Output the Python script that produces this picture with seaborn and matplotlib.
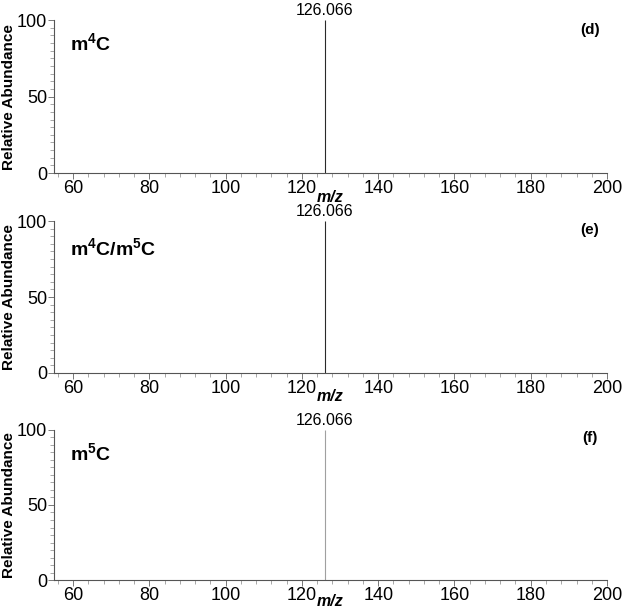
import matplotlib
matplotlib.use("Agg")
import matplotlib.pyplot as plt
import seaborn as sns
import pandas as pd
from matplotlib.ticker import MultipleLocator

# ---- data ----
panel_names = ["m4C", "m4C/m5C", "m5C"]
panel_titles = [r"$\mathbf{m^{4}C}$", r"$\mathbf{m^{4}C/m^{5}C}$", r"$\mathbf{m^{5}C}$"]
panel_tags = ["(d)", "(e)", "(f)"]
peak_mz = [126.066, 126.066, 126.066]
peak_intensity = [100, 100, 100]
peak_labels = ["126.066", "126.066", "126.066"]
x_ticks = [60, 80, 100, 120, 140, 160, 180, 200]
y_ticks = [0, 50, 100]

sns.set_style("ticks")
plt.rcParams["font.family"] = ["Liberation Sans", "DejaVu Sans"]
plt.rcParams["mathtext.fontset"] = "custom"
plt.rcParams["mathtext.rm"] = "Liberation Sans"
plt.rcParams["mathtext.bf"] = "Liberation Sans:bold"
plt.rcParams["mathtext.it"] = "Liberation Sans:italic"
plt.rcParams["text.color"] = "black"
plt.rcParams["axes.labelcolor"] = "black"
plt.rcParams["xtick.labelcolor"] = "black"
plt.rcParams["ytick.labelcolor"] = "black"

fig = plt.figure(figsize=(6.26, 6.16), dpi=100)
left, width = 0.0863, 0.8834
boxes = [(0.719, 0.2484), (0.3945, 0.2467), (0.0584, 0.2436)]
line_colors = ["#2a2a2a", "#2a2a2a", "#a0a0a0"]
title_y = [0.85, 0.82, 0.847]
tag_y = [0.935, 0.94, 0.947]
xlabel_y = [-0.11, -0.105, -0.09]

for i, (b, h) in enumerate(boxes):
    ax = fig.add_axes([left, b, width, h])
    df = pd.DataFrame({"mz": [peak_mz[i]], "intensity": [peak_intensity[i]]})
    ax.vlines(df["mz"], 0, df["intensity"], color=line_colors[i], linewidth=0.8)
    sns.despine(ax=ax)
    ax.set_xlim(55, 200)
    ax.set_ylim(0, 100)
    ax.set_xticks(x_ticks)
    ax.set_yticks(y_ticks)
    ax.xaxis.set_minor_locator(MultipleLocator(4))
    ax.yaxis.set_minor_locator(MultipleLocator(5))
    for sp in ["left", "bottom"]:
        ax.spines[sp].set_color("#555555")
        ax.spines[sp].set_linewidth(0.8)
    ax.tick_params(which="major", direction="out", length=4, width=0.7,
                   color="#777777", labelsize=13, pad=1)
    ax.tick_params(which="minor", direction="out", length=3, width=0.6,
                   color="#999999")
    ax.set_ylabel("Relative Abundance", fontsize=11, fontweight="bold")
    ax.yaxis.set_label_coords(-0.068, 0.5)
    ax.set_xlabel("m/z", fontsize=11.5, fontweight="bold", style="italic")
    ax.xaxis.set_label_coords(0.5, xlabel_y[i])
    ax.text(0.029, title_y[i], panel_titles[i], transform=ax.transAxes,
            fontsize=14, ha="left", va="center")
    ax.text(0.969, tag_y[i], panel_tags[i], transform=ax.transAxes,
            fontsize=11, fontweight="bold", ha="center", va="center")
    ax.annotate(peak_labels[i], xy=(peak_mz[i], peak_intensity[i]),
                xytext=(0, 1.5), textcoords="offset points",
                ha="center", va="bottom", fontsize=11.5, annotation_clip=False)

fig.savefig("out.png", dpi=100)
